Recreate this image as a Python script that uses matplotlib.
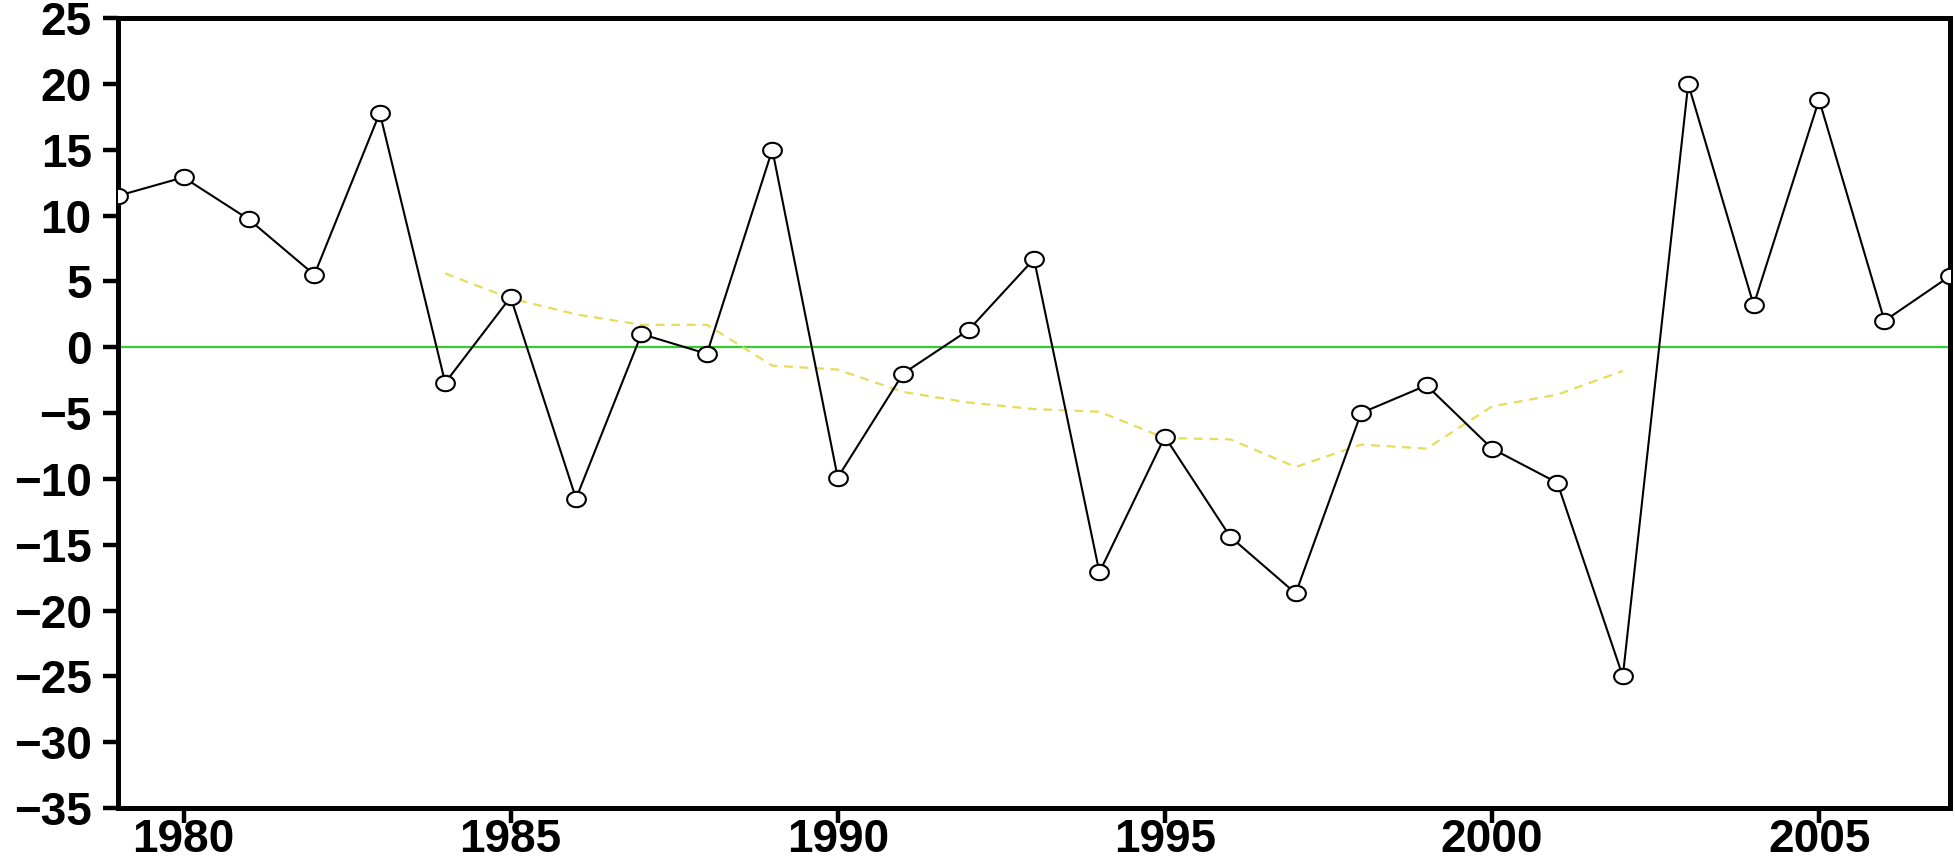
import matplotlib
matplotlib.use("Agg")
import matplotlib.pyplot as plt
import numpy as np
from matplotlib.path import Path

years = list(range(1979, 2008))
values = [11.5, 12.9, 9.7, 5.5, 17.8, -2.7, 3.8, -11.5, 1.0, -0.5,
          15.0, -9.9, -2.0, 1.3, 6.7, -17.1, -6.8, -14.4, -18.7, -5.0,
          -2.9, -7.7, -10.3, -25.0, 20.0, 3.2, 18.8, 2.0, 5.4]

# running mean shown as yellow dashed line
ma_years = list(range(1984, 2003))
ma_values = [5.6, 3.7, 2.5, 1.7, 1.7, -1.4, -1.7, -3.4, -4.2, -4.7,
             -4.9, -6.9, -7.0, -9.1, -7.4, -7.7, -4.5, -3.6, -1.8]

x_ticks = [1980, 1985, 1990, 1995, 2000, 2005]
y_ticks = list(range(-35, 30, 5))

plt.rcParams["font.family"] = ["Liberation Sans", "DejaVu Sans"]

# slightly flattened circle marker
t = np.linspace(0, 2 * np.pi, 60)
ellipse = Path(np.column_stack([np.cos(t), 0.82 * np.sin(t)]), closed=True)

fig = plt.figure(figsize=(19.55, 8.63), dpi=100)
ax = fig.add_axes([0.0604, 0.0637, 0.9370, 0.9154])

ax.axhline(0, color="#33cc33", lw=1.6, zorder=1)
ax.plot(ma_years, ma_values, color="#e6dc5a", lw=1.6,
        linestyle=(0, (4, 3)), zorder=2)
ax.plot(years, values, color="black", lw=1.5, marker=ellipse,
        markersize=13.5, markerfacecolor="white", markeredgecolor="black",
        markeredgewidth=1.5, zorder=3)

ax.set_xlim(1979, 2007)
ax.set_ylim(-35, 25)
ax.set_xticks(x_ticks)
ax.set_yticks(y_ticks)

for side in ["left", "bottom", "right", "top"]:
    ax.spines[side].set_linewidth(3.6)

ax.tick_params(axis="both", which="major", direction="out", length=11,
               width=3.2, labelsize=33, top=False, right=False)
ax.tick_params(axis="y", pad=8)
ax.tick_params(axis="x", pad=21)
for lab in ax.get_xticklabels():
    lab.set_fontweight("bold")
    lab.set_verticalalignment("baseline")
for lab in ax.get_yticklabels():
    lab.set_fontweight("bold")

fig.savefig("out.png", dpi=100)
